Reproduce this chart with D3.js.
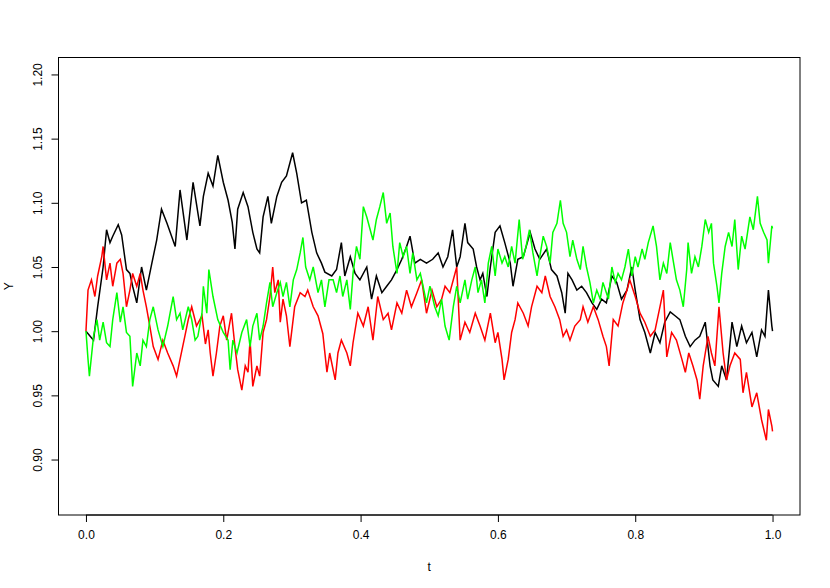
<!DOCTYPE html>
<html>
<head>
<meta charset="utf-8">
<script src="https://cdn.jsdelivr.net/npm/d3@7"></script>
<style>
  body { margin: 0; background: #fff; }
  #chart { width: 830px; height: 588px; }
  text { font-family: "Liberation Sans", Arial, sans-serif; }
</style>
</head>
<body>
<div id="chart"></div>
<script>
// values, t / Y pairs per path
const xTicks = [0, 0.2, 0.4, 0.6, 0.8, 1.0];
const yTicks = [0.90, 0.95, 1.00, 1.05, 1.10, 1.15, 1.20];

const blackT = [0,0.011,0.017,0.025,0.030,0.035,0.039,0.047,0.052,0.059,0.064,0.068,0.074,0.081,0.088,0.096,0.103,0.110,0.118,0.130,0.137,0.147,0.156,0.166,0.171,0.178,0.185,0.192,0.200,0.207,0.213,0.217,0.221,0.229,0.236,0.243,0.249,0.253,0.258,0.265,0.270,0.278,0.285,0.292,0.301,0.307,0.314,0.321,0.329,0.336,0.343,0.348,0.358,0.365,0.372,0.377,0.385,0.392,0.399,0.409,0.416,0.423,0.431,0.438,0.445,0.453,0.460,0.467,0.472,0.479,0.487,0.496,0.505,0.513,0.520,0.527,0.534,0.540,0.545,0.552,0.556,0.564,0.569,0.574,0.578,0.584,0.589,0.596,0.603,0.610,0.618,0.622,0.629,0.637,0.647,0.654,0.661,0.671,0.678,0.686,0.693,0.698,0.702,0.708,0.715,0.722,0.729,0.737,0.744,0.751,0.758,0.766,0.773,0.780,0.788,0.795,0.800,0.807,0.814,0.822,0.829,0.836,0.843,0.851,0.858,0.865,0.873,0.880,0.887,0.894,0.902,0.909,0.913,0.921,0.926,0.933,0.941,0.948,0.955,0.962,0.970,0.977,0.984,0.989,0.994,0.999,1.000];
const blackY = [1.000,0.993,1.019,1.050,1.079,1.069,1.074,1.083,1.075,1.048,1.045,1.035,1.022,1.050,1.032,1.053,1.071,1.095,1.084,1.066,1.110,1.071,1.116,1.082,1.105,1.123,1.113,1.137,1.116,1.102,1.085,1.064,1.095,1.108,1.097,1.077,1.064,1.061,1.089,1.105,1.084,1.105,1.116,1.121,1.139,1.123,1.100,1.102,1.077,1.061,1.053,1.046,1.043,1.048,1.069,1.043,1.058,1.045,1.040,1.050,1.025,1.043,1.030,1.035,1.040,1.048,1.056,1.066,1.074,1.053,1.056,1.053,1.056,1.061,1.050,1.058,1.079,1.050,1.058,1.084,1.069,1.064,1.050,1.040,1.045,1.027,1.050,1.077,1.082,1.069,1.053,1.035,1.056,1.058,1.077,1.064,1.056,1.064,1.048,1.043,1.030,1.014,1.045,1.040,1.032,1.035,1.030,1.022,1.017,1.025,1.022,1.043,1.038,1.025,1.032,1.050,1.032,1.009,0.999,0.983,0.999,0.991,1.007,1.015,1.012,1.009,0.996,0.988,0.993,0.996,1.007,0.973,0.962,0.957,0.973,0.962,1.007,0.988,1.004,0.991,0.999,0.980,1.001,0.996,1.032,1.004,1.000];

const redT = [0,0.003,0.008,0.013,0.017,0.023,0.025,0.030,0.035,0.039,0.045,0.050,0.054,0.059,0.064,0.068,0.074,0.079,0.083,0.088,0.093,0.098,0.105,0.112,0.119,0.127,0.132,0.137,0.144,0.149,0.154,0.161,0.169,0.174,0.178,0.181,0.185,0.190,0.195,0.200,0.205,0.212,0.217,0.221,0.227,0.232,0.236,0.239,0.243,0.249,0.253,0.258,0.263,0.268,0.272,0.275,0.280,0.283,0.287,0.292,0.297,0.304,0.312,0.319,0.323,0.331,0.338,0.345,0.351,0.355,0.363,0.367,0.372,0.380,0.385,0.389,0.396,0.404,0.411,0.418,0.425,0.433,0.440,0.445,0.453,0.460,0.467,0.474,0.482,0.489,0.496,0.504,0.511,0.518,0.523,0.530,0.540,0.545,0.552,0.559,0.567,0.574,0.581,0.589,0.596,0.600,0.606,0.609,0.615,0.620,0.625,0.629,0.637,0.644,0.649,0.657,0.664,0.669,0.676,0.683,0.690,0.695,0.700,0.705,0.712,0.720,0.724,0.731,0.739,0.746,0.753,0.758,0.762,0.768,0.775,0.782,0.788,0.792,0.800,0.807,0.814,0.822,0.829,0.836,0.841,0.846,0.853,0.860,0.868,0.873,0.878,0.884,0.890,0.894,0.899,0.906,0.911,0.916,0.922,0.928,0.933,0.938,0.945,0.953,0.957,0.962,0.970,0.977,0.984,0.991,0.994,0.999,1.000];
const redY = [1.000,1.032,1.040,1.027,1.043,1.058,1.066,1.040,1.053,1.035,1.053,1.056,1.045,1.019,1.032,1.045,1.035,1.045,1.032,1.019,1.004,0.988,0.978,0.993,0.983,0.973,0.965,0.978,0.996,1.009,1.019,1.004,1.012,0.990,1.001,0.983,0.965,0.983,1.004,1.012,0.993,1.014,0.988,0.970,0.954,0.973,0.968,0.993,0.957,0.973,0.965,0.999,1.009,1.027,1.050,1.030,1.040,1.007,1.025,1.012,0.988,1.019,1.030,1.027,1.032,1.019,1.012,0.998,0.968,0.983,0.962,0.983,0.993,0.983,0.973,0.991,1.014,1.004,1.019,0.993,1.027,1.009,1.014,1.001,1.022,1.014,1.032,1.019,1.030,1.040,1.014,1.032,1.019,1.025,1.035,1.030,1.050,0.993,1.007,0.999,1.014,1.004,0.993,1.014,0.991,0.999,0.978,0.962,0.978,0.999,1.009,1.022,1.014,1.004,1.019,1.035,1.030,1.043,1.027,1.019,1.009,0.996,1.001,0.993,1.004,1.009,1.019,1.007,1.019,1.009,0.996,0.988,0.973,1.009,1.004,1.022,1.032,1.040,1.027,1.014,1.007,0.996,1.001,1.019,1.032,0.980,0.999,0.993,0.978,0.968,0.983,0.973,0.962,0.947,0.973,0.996,0.983,0.973,1.019,0.983,0.962,0.973,0.983,0.978,0.952,0.968,0.941,0.952,0.931,0.915,0.939,0.926,0.922];

const greenT = [0,0.003,0.005,0.011,0.016,0.020,0.025,0.030,0.035,0.039,0.045,0.050,0.054,0.059,0.064,0.068,0.074,0.079,0.083,0.088,0.093,0.098,0.105,0.112,0.119,0.127,0.132,0.137,0.141,0.149,0.154,0.159,0.163,0.169,0.171,0.176,0.179,0.185,0.192,0.200,0.207,0.210,0.214,0.220,0.227,0.234,0.239,0.243,0.249,0.253,0.258,0.263,0.268,0.272,0.278,0.283,0.287,0.292,0.297,0.302,0.307,0.312,0.316,0.320,0.326,0.331,0.338,0.343,0.348,0.354,0.360,0.365,0.370,0.374,0.380,0.385,0.389,0.394,0.399,0.404,0.409,0.414,0.418,0.423,0.428,0.433,0.438,0.443,0.447,0.453,0.457,0.462,0.467,0.472,0.476,0.482,0.487,0.491,0.496,0.501,0.508,0.513,0.518,0.523,0.529,0.535,0.540,0.545,0.552,0.556,0.562,0.567,0.571,0.576,0.581,0.586,0.591,0.596,0.600,0.606,0.610,0.615,0.620,0.625,0.631,0.636,0.641,0.646,0.651,0.657,0.661,0.666,0.671,0.676,0.680,0.686,0.691,0.695,0.700,0.705,0.709,0.715,0.720,0.724,0.729,0.734,0.739,0.744,0.749,0.753,0.761,0.766,0.771,0.775,0.780,0.785,0.790,0.795,0.800,0.804,0.810,0.814,0.819,0.826,0.831,0.836,0.841,0.846,0.851,0.855,0.860,0.865,0.870,0.875,0.877,0.882,0.887,0.892,0.897,0.902,0.907,0.911,0.914,0.919,0.922,0.926,0.931,0.936,0.941,0.945,0.950,0.955,0.960,0.967,0.972,0.978,0.982,0.987,0.992,0.994,0.999,1.000];
const greenY = [1.000,0.978,0.965,0.996,1.009,0.993,1.007,0.991,0.988,1.009,1.030,1.007,1.019,0.999,0.996,0.957,0.983,0.973,0.993,0.988,1.009,1.019,1.001,0.988,1.004,1.027,1.009,1.014,1.001,1.019,1.009,0.993,0.996,1.014,1.035,1.014,1.048,1.027,1.009,0.999,0.993,0.970,0.993,0.983,0.999,1.009,0.988,1.004,1.014,0.993,1.004,1.022,1.038,1.019,1.030,1.038,1.027,1.038,1.019,1.040,1.048,1.061,1.073,1.050,1.040,1.050,1.030,1.040,1.019,1.040,1.040,1.030,1.043,1.027,1.040,1.017,1.045,1.066,1.056,1.097,1.089,1.079,1.071,1.087,1.097,1.108,1.084,1.092,1.066,1.045,1.069,1.058,1.066,1.045,1.061,1.040,1.045,1.035,1.022,1.035,1.019,1.012,1.025,1.004,0.993,1.019,1.035,1.022,1.040,1.025,1.040,1.050,1.030,1.040,1.022,1.053,1.066,1.043,1.064,1.053,1.058,1.050,1.066,1.053,1.087,1.056,1.066,1.079,1.061,1.043,1.058,1.074,1.066,1.053,1.077,1.084,1.102,1.084,1.077,1.058,1.071,1.056,1.048,1.066,1.050,1.038,1.022,1.032,1.025,1.038,1.025,1.050,1.038,1.045,1.040,1.050,1.064,1.043,1.058,1.050,1.064,1.056,1.069,1.082,1.066,1.040,1.053,1.045,1.069,1.056,1.040,1.032,1.019,1.048,1.069,1.045,1.058,1.050,1.066,1.087,1.077,1.084,1.053,1.035,1.022,1.045,1.066,1.077,1.066,1.087,1.048,1.074,1.064,1.089,1.079,1.105,1.084,1.077,1.071,1.053,1.082,1.080];

const series = [
  { name: 'black', color: '#000000', t: blackT, y: blackY },
  { name: 'red', color: '#ff0000', t: redT, y: redY },
  { name: 'green', color: '#00ff00', t: greenT, y: greenY }
];

const W = 830, H = 588;
const plot = { left: 58.5, right: 800, top: 57.5, bottom: 515 };

const svg = d3.select('#chart').append('svg')
  .attr('width', W).attr('height', H);

const x = d3.scaleLinear().domain([-0.04, 1.04]).range([plot.left, plot.right]);
const y = d3.scaleLinear().domain([0.8568, 1.2132]).range([plot.bottom, plot.top]);

// Paths
const line = d3.line().x(d => x(d[0])).y(d => y(d[1]));
series.forEach(s => {
  const pts = s.t.map((t, i) => [t, s.y[i]]);
  svg.append('path').datum(pts)
    .attr('fill', 'none').attr('stroke', s.color)
    .attr('stroke-width', 1.5).attr('stroke-linejoin', 'miter')
    .attr('d', line);
});

// Box
svg.append('rect')
  .attr('x', plot.left).attr('y', plot.top)
  .attr('width', plot.right - plot.left).attr('height', plot.bottom - plot.top)
  .attr('fill', 'none').attr('stroke', '#000').attr('stroke-width', 1);

// Axes (R style: ticks outward, axis line only between end ticks)
const xAxis = svg.append('g').attr('transform', `translate(0,${plot.bottom})`)
  .call(d3.axisBottom(x).tickValues(xTicks).tickSize(7).tickPadding(8).tickFormat(d3.format('.1f')));
xAxis.select('.domain').attr('d', `M${x(0)},0H${x(1)}`);
xAxis.selectAll('text').style('font-size', '12px').style('fill', '#000');

const yAxis = svg.append('g').attr('transform', `translate(${plot.left},0)`)
  .call(d3.axisLeft(y).tickValues(yTicks).tickSize(7).tickFormat(d3.format('.2f')));
yAxis.select('.domain').attr('d', `M0,${y(0.9)}V${y(1.2)}`);
yAxis.selectAll('.tick text')
  .attr('x', 0).attr('dy', null)
  .attr('transform', 'translate(-20,0) rotate(-90)')
  .attr('text-anchor', 'middle').attr('dominant-baseline', 'middle')
  .style('font-size', '12px').style('fill', '#000');

// Axis titles
svg.append('text').attr('x', x(0.5)).attr('y', 571)
  .attr('text-anchor', 'middle').style('font-size', '12px').text('t');
svg.append('text')
  .attr('transform', `translate(13,${(plot.top + plot.bottom) / 2}) rotate(-90)`)
  .attr('text-anchor', 'middle').style('font-size', '12px').text('Y');
</script>
</body>
</html>
